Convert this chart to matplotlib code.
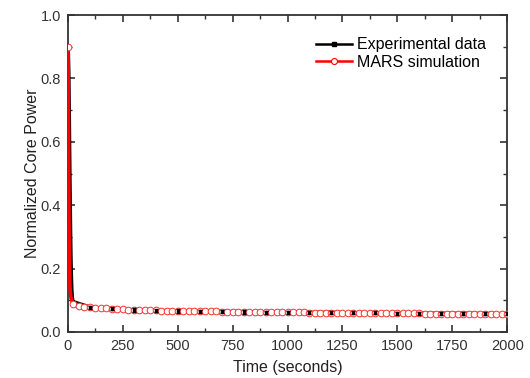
import numpy as np
import matplotlib
matplotlib.use("Agg")
import matplotlib.pyplot as plt
from matplotlib.ticker import MultipleLocator
from matplotlib.lines import Line2D

plt.rcParams['font.family'] = ['Liberation Sans', 'DejaVu Sans']

# MARS simulation: fast transient then every 25 s
sim_time = [0, 1, 2, 3, 4, 5, 6, 8, 10, 12, 15, 20,
            25, 50, 75, 100, 125, 150, 175, 200, 225, 250, 275, 300, 325, 350, 375, 400,
            425, 450, 475, 500, 525, 550, 575, 600, 625, 650, 675, 700, 725, 750, 775, 800,
            825, 850, 875, 900, 925, 950, 975, 1000, 1025, 1050, 1075, 1100, 1125, 1150,
            1175, 1200, 1225, 1250, 1275, 1300, 1325, 1350, 1375, 1400, 1425, 1450, 1475,
            1500, 1525, 1550, 1575, 1600, 1625, 1650, 1675, 1700, 1725, 1750, 1775, 1800,
            1825, 1850, 1875, 1900, 1925, 1950, 1975, 2000]
sim_power = [0.900, 0.880, 0.800, 0.650, 0.500, 0.380, 0.290, 0.190, 0.140, 0.120, 0.105, 0.095,
             0.088, 0.083, 0.080, 0.078, 0.076, 0.075, 0.074, 0.073, 0.072, 0.071, 0.070, 0.070,
             0.069, 0.069, 0.068, 0.068, 0.067, 0.067, 0.067, 0.066, 0.066, 0.066, 0.066, 0.065,
             0.065, 0.065, 0.065, 0.064, 0.064, 0.064, 0.064, 0.064, 0.063, 0.063, 0.063, 0.063,
             0.063, 0.062, 0.062, 0.062, 0.062, 0.062, 0.062, 0.061, 0.061, 0.061, 0.061, 0.061,
             0.061, 0.060, 0.060, 0.060, 0.060, 0.060, 0.060, 0.060, 0.059, 0.059, 0.059, 0.059,
             0.059, 0.059, 0.059, 0.059, 0.058, 0.058, 0.058, 0.058, 0.058, 0.058, 0.058, 0.058,
             0.058, 0.057, 0.057, 0.057, 0.057, 0.057, 0.057, 0.057]

# Experimental data: transient samples then every 100 s with uncertainty
exp_time = [0, 2, 4, 6, 8, 10, 12, 14, 16, 18, 20, 22, 25,
            100, 200, 300, 400, 500, 600, 700, 800, 900, 1000,
            1100, 1200, 1300, 1400, 1500, 1600, 1700, 1800, 1900, 2000]
exp_power = [0.890, 0.880, 0.820, 0.700, 0.560, 0.430, 0.320, 0.230, 0.170, 0.130, 0.110, 0.100, 0.095,
             0.078, 0.073, 0.069, 0.067, 0.066, 0.065, 0.064, 0.063, 0.062, 0.062,
             0.061, 0.061, 0.060, 0.060, 0.059, 0.059, 0.058, 0.058, 0.058, 0.057]
exp_err = [0.0] * 13 + [0.005] * 20

fig = plt.figure(figsize=(5.3, 3.78), dpi=100)
ax = fig.add_axes([0.128, 0.122, 0.829, 0.838])

# experimental: thick line under everything, error bars on top in the tail
ax.plot(exp_time, exp_power, color='black', lw=2.6, zorder=2)
ax.errorbar(exp_time[13:], exp_power[13:], yerr=exp_err[13:], fmt='s', color='black',
            ms=2.0, capsize=1.6, elinewidth=1.0, capthick=1.0, zorder=5)

# circle markers only on the 25 s grid
marks = [i for i, t in enumerate(sim_time) if t % 25 == 0]
ax.plot(sim_time, sim_power, color='red', lw=2.6, zorder=3)
ax.plot([sim_time[i] for i in marks], [sim_power[i] for i in marks], ls='none',
        marker='o', ms=4.8, mfc='white', mec='#ff3030', mew=0.7, zorder=4)

ax.set_xlim(0, 2000)
ax.set_ylim(0, 1.0)
ax.xaxis.set_major_locator(MultipleLocator(250))
ax.xaxis.set_minor_locator(MultipleLocator(125))
ax.yaxis.set_minor_locator(MultipleLocator(0.1))
ax.set_yticks([0, 0.2, 0.4, 0.6, 0.8, 1.0])
ax.set_yticklabels(['0.0', '0.2', '0.4', '0.6', '0.8', '1.0'])
ax.tick_params(which='both', direction='in', top=True, right=True,
               labelsize=10.5, colors='#333333', labelcolor='#333333')
ax.tick_params(which='major', length=5, width=1.2, pad=5)
ax.tick_params(which='minor', length=3, width=1.0)
for s in ax.spines.values():
    s.set_linewidth(1.3)
    s.set_color('#333333')

ax.set_xlabel('Time (seconds)', fontsize=11.5, color='#222222', labelpad=5)
ax.set_ylabel('Normalized Core Power', fontsize=11.5, color='#222222', labelpad=0)

handles = [
    Line2D([], [], color='black', lw=1.8, marker='s', ms=3),
    Line2D([], [], color='red', lw=1.8, marker='o', ms=4.3, mfc='white', mec='red', mew=0.8),
]
ax.legend(handles, ['Experimental data', 'MARS simulation'], loc='upper right',
          bbox_to_anchor=(0.985, 0.975), frameon=False, fontsize=11.5,
          handlelength=2.3, handletextpad=0.3, labelspacing=0.15)

fig.savefig('out.png', dpi=100)
